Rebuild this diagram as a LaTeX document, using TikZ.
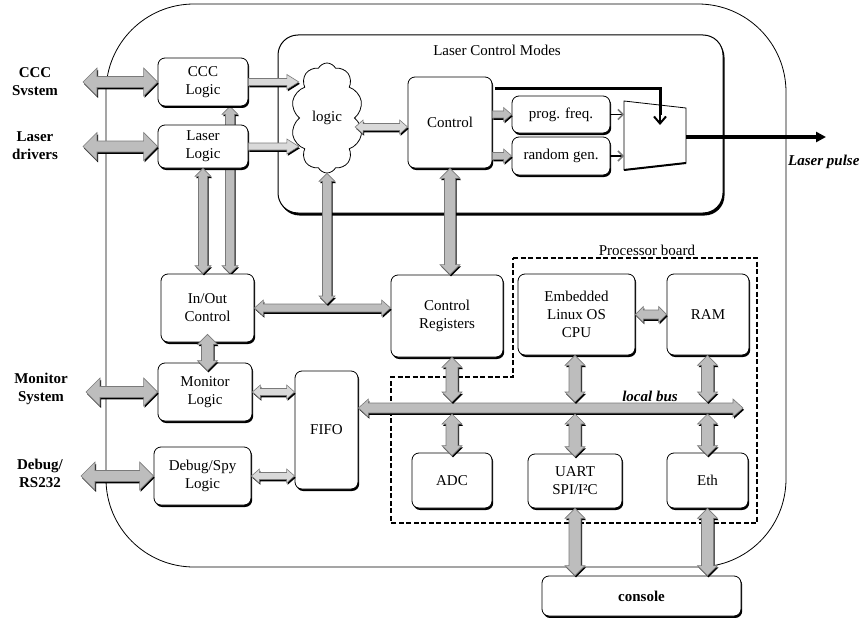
\documentclass[tikz,border=0pt]{standalone}
\usepackage{fontspec}
\setmainfont{Liberation Serif}
\usetikzlibrary{calc,shapes.symbols,shadows,arrows.meta}
\definecolor{arrgray}{HTML}{BDBDBD}
\definecolor{arrlight}{HTML}{D9D9D9}
\definecolor{arredge}{HTML}{7A7A7A}
\pgfdeclarelayer{bg}
\pgfsetlayers{bg,main}
\newcommand\boxfont{\fontsize{15}{18}\selectfont}
% #1 style, #2 end A, #3 end B, #4 shaft half width, #5 head half width, #6 head length
\newcommand\DblArr[6]{%
 \fill[black,transform canvas={shift={(1pt,-1.8pt)}}] (#2) -- ($(#2)!#6!(#3)!#5!90:(#3)$) -- ($(#2)!#6!(#3)!#4!90:(#3)$) -- ($(#3)!#6!(#2)!#4!-90:(#2)$) -- ($(#3)!#6!(#2)!#5!-90:(#2)$) -- (#3) -- ($(#3)!#6!(#2)!#5!90:(#2)$) -- ($(#3)!#6!(#2)!#4!90:(#2)$) -- ($(#2)!#6!(#3)!#4!-90:(#3)$) -- ($(#2)!#6!(#3)!#5!-90:(#3)$) -- cycle;
 \path[#1] (#2) -- ($(#2)!#6!(#3)!#5!90:(#3)$) -- ($(#2)!#6!(#3)!#4!90:(#3)$) -- ($(#3)!#6!(#2)!#4!-90:(#2)$) -- ($(#3)!#6!(#2)!#5!-90:(#2)$) -- (#3) -- ($(#3)!#6!(#2)!#5!90:(#2)$) -- ($(#3)!#6!(#2)!#4!90:(#2)$) -- ($(#2)!#6!(#3)!#4!-90:(#3)$) -- ($(#2)!#6!(#3)!#5!-90:(#3)$) -- cycle;}
% #1 style, #2 tail, #3 head, #4 shaft half width, #5 head half width, #6 head length
\newcommand\SglArr[6]{%
 \fill[black,transform canvas={shift={(1pt,-1.8pt)}}] ($(#2)!#4!90:(#3)$) -- ($(#3)!#6!(#2)!#4!-90:(#2)$) -- ($(#3)!#6!(#2)!#5!-90:(#2)$) -- (#3) -- ($(#3)!#6!(#2)!#5!90:(#2)$) -- ($(#3)!#6!(#2)!#4!90:(#2)$) -- ($(#2)!#4!-90:(#3)$) -- cycle;
 \path[#1] ($(#2)!#4!90:(#3)$) -- ($(#3)!#6!(#2)!#4!-90:(#2)$) -- ($(#3)!#6!(#2)!#5!-90:(#2)$) -- (#3) -- ($(#3)!#6!(#2)!#5!90:(#2)$) -- ($(#3)!#6!(#2)!#4!90:(#2)$) -- ($(#2)!#4!-90:(#3)$) -- cycle;}
\begin{document}
\begin{tikzpicture}[x=1pt,y=-1pt,font=\boxfont,
  box/.style={draw, line width=0.8pt, fill=white, rounded corners=7pt, align=center, inner sep=0pt,
    drop shadow={shadow xshift=1.2pt, shadow yshift=-2pt, opacity=1, fill=black}},
  ext/.style={font=\boxfont\bfseries, align=center},
  fatarr/.style={fill=arrgray, draw=arredge, line width=0.6pt},
  lightarr/.style={fill=arrlight, draw=arredge, line width=0.6pt}]
\useasboundingbox (0,0) rectangle (863,618);

% outer board
\node[draw, line width=0.8pt, rounded corners=88pt, minimum width=680, minimum height=563, inner sep=0pt] (outer) at (446,285.5) {};

% laser control modes
\node[draw, line width=1pt, fill=white, rounded corners=20pt, minimum width=445, minimum height=178, inner sep=0pt,
  drop shadow={shadow xshift=1.5pt, shadow yshift=-2.5pt, opacity=1, fill=black}] (lcm) at (500.5,124) {};
\node (lcmt) at (497,50) {Laser Control Modes};

% processor board
\draw[dash pattern=on 5pt off 2.5pt, line width=1.5pt] (513,258) -- (757,258) -- (757,523) -- (391,523) -- (391,377) -- (513,377) -- cycle;
\node (pbt) at (647,250) {Processor board};

% external labels
\node[ext] (lccc) at (35,82) {CCC\\Svstem};
\node[ext] (llas) at (35,146) {Laser\\drivers};
\node[ext] (lmon) at (41,389) {Monitor\\System};
\node[ext] (ldbg) at (40,473) {Debug/\\RS232};

% boxes
\node[box, minimum width=90, minimum height=48] (ccc) at (203,82) {CCC\\Logic};
\node[box, minimum width=90, minimum height=43] (laser) at (203,146.5) {Laser\\Logic};
\node[box, minimum width=93, minimum height=68] (io) at (207.5,308) {In/Out\\Control};
\node[box, minimum width=94, minimum height=58] (mon) at (205,392) {Monitor\\Logic};
\node[box, minimum width=97, minimum height=58] (dbg) at (202.5,476) {Debug/Spy\\Logic};
\node[box, minimum width=63, minimum height=118] (fifo) at (326.5,430) {FIFO};
\node[box, minimum width=112, minimum height=82] (creg) at (447,316) {Control\\Registers};
\node[box, minimum width=117, minimum height=81] (cpu) at (576.5,314.5) {Embedded\\Linux OS\\CPU};
\node[box, minimum width=82, minimum height=81] (ram) at (708,314.5) {RAM};
\node[box, minimum width=80, minimum height=55] (adc) at (452,480.5) {ADC};
\node[box, minimum width=94, minimum height=54] (uart) at (575,481) {UART\\SPI/I²C};
\node[box, minimum width=81, minimum height=55] (eth) at (707.5,480.5) {Eth};
\node[box, minimum width=199, minimum height=40, font=\boxfont\bfseries] (console) at (641.5,596) {console};
\node[box, minimum width=84, minimum height=91] (ctrl) at (450,122.5) {Control};
\node[box, minimum width=98, minimum height=37] (pf) at (561,114.5) {prog. freq.};
\node[box, minimum width=98, minimum height=38] (rg) at (561,156) {random gen.};
\node[cloud, draw, line width=0.8pt, fill=white, cloud puffs=10, cloud puff arc=125, cloud ignores aspect,
  minimum width=72, minimum height=110, inner sep=0pt] (cloud) at (327,118) {logic};

% multiplexer
\coordinate (m1) at (624,101);
\coordinate (m2) at (686,108);
\coordinate (m3) at (686,163);
\coordinate (m4) at (624,170);
\draw[line width=0.8pt, fill=white] (m1) -- (m2) -- (m3) -- (m4) -- cycle;
\draw[line width=2pt] (m3) -- (m4);
\coordinate (mi1) at (624,117);
\coordinate (mi2) at (624,151);
\coordinate (msel) at (660,125);
\coordinate (mout) at (686,137);
\coordinate (pulse) at (826,137);
\coordinate (cs) at ($(ctrl.north east)+(3,12)$);

% control and pulse lines
\draw[line width=3pt] (cs) -| ($(msel)+(0,-10)$);
\draw[line width=2pt, -{Straight Barb[length=7pt,width=12pt]}] ($(msel)+(0,-12)$) -- (msel);
\draw[line width=3.5pt, -{Triangle[length=10pt,width=10pt]}] (mout) -- (pulse);
\node[font=\boxfont\bfseries\itshape, anchor=east] (lpulse) at (863,162) {Laser pulse};
\draw[line width=1.5pt, -{Straight Barb[length=5pt,width=10pt,color=arredge]}] (pf.east) -- (pf.east -| mi1);
\draw[line width=1.5pt, -{Straight Barb[length=5pt,width=10pt,color=arredge]}] (rg.east) -- (rg.east -| mi2);

% external fat arrows
\coordinate (x1) at (83,82);
\coordinate (x2) at (83,146.5);
\coordinate (x3) at (86,392);
\coordinate (x4) at (81,476);
\DblArr{fatarr}{x1}{ccc.west}{5.5pt}{14pt}{14pt}
\DblArr{fatarr}{x2}{laser.west}{5.5pt}{14pt}{14pt}
\DblArr{fatarr}{x3}{mon.west}{5.5pt}{14pt}{14pt}
\DblArr{fatarr}{x4}{dbg.west}{5.5pt}{14pt}{14pt}

% logic to cloud
\coordinate (c1) at (cloud.west |- ccc.east);
\coordinate (c2) at (cloud.west |- laser.east);
\SglArr{lightarr}{ccc.east}{c1}{3.5pt}{7.5pt}{12pt}
\SglArr{lightarr}{laser.east}{c2}{3.5pt}{7.5pt}{12pt}

% vertical links to In/Out
\coordinate (v1) at (io.north -| laser.south);
\DblArr{fatarr}{v1}{laser.south}{4.5pt}{8pt}{8pt}
\coordinate (v2b) at ([xshift=27pt]ccc.south);
\coordinate (v2a) at (io.north -| v2b);
\begin{pgfonlayer}{bg}
\DblArr{fatarr}{v2a}{v2b}{4.5pt}{8pt}{8pt}
\end{pgfonlayer}

% In/Out <-> Control Registers, cloud link
\coordinate (h2) at (creg.west |- io.east);
\DblArr{fatarr}{io.east}{h2}{4pt}{8pt}{9pt}
\coordinate (h1) at ($(cloud.south |- io.east)+(0,-4)$);
\DblArr{fatarr}{cloud.south}{h1}{4.5pt}{8pt}{8pt}

% Control <-> Control Registers
\coordinate (v3) at (ctrl.south |- creg.north);
\DblArr{fatarr}{ctrl.south}{v3}{5.5pt}{10pt}{10pt}

% In/Out <-> Monitor
\coordinate (iom1) at ([yshift=8pt]io.south);
\coordinate (iom2) at ([yshift=-8pt]io.south |- mon.north);
\DblArr{fatarr}{iom1}{iom2}{6pt}{10pt}{10pt}

% to FIFO
\coordinate (f1) at (fifo.west |- mon.east);
\coordinate (f2) at (fifo.west |- dbg.east);
\DblArr{lightarr}{mon.east}{f1}{3.5pt}{7pt}{8pt}
\DblArr{lightarr}{dbg.east}{f2}{3.5pt}{7pt}{8pt}

% cloud <-> Control
\coordinate (cc2) at ($(ctrl.west)+(0,4.5)$);
\coordinate (cc1) at (cloud.east |- cc2);
\DblArr{lightarr}{cc1}{cc2}{3.5pt}{7pt}{8pt}

% Control -> generators
\coordinate (p1) at (ctrl.east |- pf.west);
\coordinate (p2) at (ctrl.east |- rg.west);
\SglArr{fatarr}{p1}{pf.west}{3.5pt}{7pt}{8pt}
\SglArr{fatarr}{p2}{rg.west}{3.5pt}{7pt}{8pt}

% local bus
\coordinate (busr) at (743,408);
\coordinate (busl) at (fifo.east |- busr);
\DblArr{fatarr}{busl}{busr}{5pt}{9pt}{10pt}
\node[font=\boxfont\bfseries\itshape] (lbus) at (650,396) {local bus};
\coordinate (bt) at (0,402);
\coordinate (bb) at (0,414);

\coordinate (b1a) at (adc.north |- creg.south);
\coordinate (b1b) at (adc.north |- bt);
\coordinate (b1c) at (adc.north |- bb);
\DblArr{fatarr}{b1a}{b1b}{6pt}{10pt}{10pt}
\DblArr{fatarr}{b1c}{[yshift=-3pt]adc.north}{6pt}{10pt}{10pt}

\coordinate (b2a) at (uart.north |- cpu.south);
\coordinate (b2b) at (uart.north |- bt);
\coordinate (b2c) at (uart.north |- bb);
\DblArr{fatarr}{b2a}{b2b}{6pt}{10pt}{10pt}
\DblArr{fatarr}{b2c}{[yshift=-3pt]uart.north}{6pt}{10pt}{10pt}

\coordinate (b3a) at (eth.north |- ram.south);
\coordinate (b3b) at (eth.north |- bt);
\coordinate (b3c) at (eth.north |- bb);
\DblArr{fatarr}{b3a}{b3b}{6pt}{10pt}{10pt}
\DblArr{fatarr}{b3c}{[yshift=-3pt]eth.north}{6pt}{10pt}{10pt}

% CPU <-> RAM
\coordinate (r1) at (ram.west |- cpu.east);
\DblArr{fatarr}{cpu.east}{r1}{4.5pt}{8pt}{8pt}

% to console
\coordinate (k1) at (uart.south |- console.north);
\coordinate (k2) at (eth.south |- console.north);
\DblArr{fatarr}{uart.south}{k1}{6pt}{10pt}{10pt}
\DblArr{fatarr}{eth.south}{k2}{6pt}{10pt}{10pt}
\end{tikzpicture}
\end{document}
